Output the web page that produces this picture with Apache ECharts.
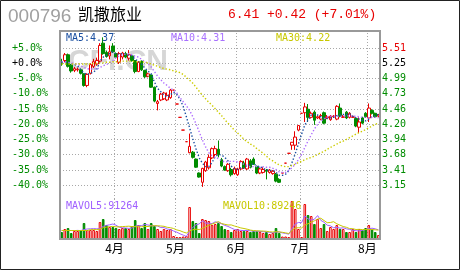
<!DOCTYPE html>
<html><head><meta charset="utf-8">
<script src="https://cdn.jsdelivr.net/npm/echarts@6/dist/echarts.min.js"></script>
<style>html,body{margin:0;padding:0;background:#fff;}#c{width:460px;height:270px;}</style>
</head><body><div id="c"></div>
<script>
// ---- data ----
const opens = [
5.27,5.30,5.40,5.22,5.13,5.14,5.14,5.07,4.87,5.08,
5.20,5.24,5.29,5.60,5.44,5.38,5.55,5.42,5.27,5.36,
5.42,5.34,5.38,5.30,5.11,5.29,5.13,5.03,5.05,4.84,
4.56,4.62,4.64,4.62,4.66,4.79,4.55,4.32,4.10,3.90,
3.71,3.72,3.60,3.36,3.20,3.40,3.45,3.62,3.68,3.77,
3.59,3.47,3.40,3.42,3.35,3.33,3.43,3.53,3.43,3.57,
3.60,3.47,3.36,3.37,3.41,3.37,3.35,3.34,3.25,3.36,
3.53,3.70,3.84,3.84,4.10,4.39,4.40,4.46,4.32,4.41,
4.31,4.29,4.40,4.31,4.28,4.33,4.29,4.48,4.32,4.41,
4.32,4.32,4.30,4.15,4.31,4.39,4.31,4.44,4.39,4.34];
const closes = [
5.25,5.40,5.20,5.12,5.16,5.15,5.08,4.87,5.06,5.23,
5.28,5.30,5.56,5.42,5.37,5.45,5.45,5.36,5.42,5.43,
5.36,5.40,5.30,5.11,5.27,5.14,5.02,5.07,4.84,4.60,
4.59,4.72,4.74,4.70,4.79,4.79,4.55,4.32,4.10,3.90,
3.82,3.63,3.46,3.29,3.44,3.55,3.63,3.78,3.78,3.68,
3.48,3.41,3.51,3.33,3.44,3.43,3.56,3.45,3.60,3.46,
3.51,3.36,3.43,3.42,3.39,3.41,3.39,3.22,3.20,3.36,
3.53,3.70,3.89,3.98,4.18,4.39,4.50,4.32,4.39,4.27,
4.33,4.35,4.22,4.33,4.34,4.34,4.51,4.34,4.33,4.31,
4.39,4.33,4.17,4.24,4.22,4.33,4.48,4.39,4.33,4.36];
const lows = [
5.21,5.27,5.18,5.09,5.10,5.11,5.06,4.85,4.84,5.06,
5.17,5.21,5.27,5.40,5.35,5.32,5.43,5.34,5.24,5.32,
5.34,5.30,5.28,5.08,5.10,5.12,5.00,5.01,4.83,4.58,
4.44,4.60,4.62,4.60,4.64,4.79,4.55,4.32,4.10,3.90,
3.70,3.61,3.45,3.28,3.12,3.38,3.42,3.60,3.64,3.63,
3.46,3.40,3.38,3.30,3.33,3.31,3.41,3.43,3.41,3.44,
3.50,3.34,3.34,3.35,3.25,3.35,3.33,3.20,3.19,3.36,
3.53,3.70,3.76,3.76,4.08,4.39,4.24,4.24,4.30,4.19,
4.29,4.27,4.20,4.29,4.26,4.31,4.27,4.32,4.31,4.29,
4.30,4.31,4.15,4.05,4.20,4.31,4.24,4.37,4.31,4.32];
const highs = [
5.33,5.43,5.42,5.24,5.19,5.18,5.16,5.08,5.08,5.25,
5.33,5.35,5.60,5.70,5.47,5.56,5.60,5.44,5.45,5.45,
5.45,5.48,5.40,5.31,5.29,5.30,5.14,5.09,5.06,4.85,
4.62,4.74,4.76,4.75,4.81,4.79,4.55,4.32,4.10,3.90,
4.04,3.74,3.61,3.37,3.45,3.57,3.68,3.80,3.83,3.92,
3.62,3.49,3.53,3.45,3.47,3.45,3.58,3.57,3.62,3.60,
3.63,3.49,3.46,3.46,3.43,3.43,3.41,3.36,3.27,3.36,
3.53,3.70,3.89,4.08,4.18,4.39,4.57,4.55,4.42,4.44,
4.35,4.38,4.42,4.36,4.36,4.36,4.53,4.56,4.36,4.43,
4.41,4.35,4.32,4.32,4.33,4.41,4.56,4.46,4.40,4.38];
const volumes = [
70000,100000,110000,60000,80000,80000,90000,160000,90000,90000,
90000,80000,170000,200000,140000,120000,120000,110000,100000,110000,
110000,100000,130000,190000,140000,110000,160000,100000,160000,130000,
100000,80000,100000,90000,100000,30000,20000,20000,25000,30000,
320000,180000,160000,60000,200000,190000,180000,140000,150000,160000,
130000,100000,90000,70000,90000,100000,80000,80000,80000,70000,
80000,80000,70000,60000,70000,50000,60000,110000,60000,25000,
25000,20000,380000,300000,100000,20000,350000,240000,230000,150000,
200000,110000,150000,80000,120000,100000,140000,100000,100000,70000,
70000,100000,70000,100000,90000,110000,140000,100000,70000,40000];
const ma5 = [
5.27,5.28,5.27,5.25,5.23,5.21,5.14,5.08,5.06,5.08,
5.10,5.15,5.29,5.36,5.39,5.42,5.45,5.41,5.41,5.42,
5.40,5.39,5.38,5.32,5.29,5.24,5.17,5.12,5.07,4.93,
4.82,4.76,4.70,4.67,4.71,4.75,4.71,4.63,4.51,4.33,
4.14,3.95,3.78,3.62,3.53,3.47,3.47,3.54,3.64,3.68,
3.67,3.63,3.57,3.48,3.43,3.42,3.45,3.44,3.50,3.50,
3.52,3.48,3.47,3.44,3.42,3.40,3.41,3.37,3.32,3.32,
3.34,3.40,3.54,3.69,3.86,4.03,4.19,4.27,4.36,4.37,
4.36,4.33,4.31,4.30,4.31,4.32,4.35,4.37,4.37,4.37,
4.38,4.34,4.31,4.29,4.27,4.26,4.29,4.33,4.35,4.37];
const ma10 = [
5.28,5.28,5.27,5.26,5.25,5.23,5.21,5.18,5.16,5.15,
5.16,5.15,5.18,5.21,5.23,5.26,5.30,5.35,5.38,5.40,
5.41,5.42,5.40,5.37,5.36,5.32,5.28,5.25,5.19,5.11,
5.03,4.97,4.91,4.87,4.82,4.79,4.74,4.66,4.59,4.52,
4.44,4.33,4.21,4.07,3.93,3.81,3.71,3.66,3.63,3.61,
3.57,3.55,3.56,3.56,3.56,3.55,3.54,3.51,3.49,3.47,
3.47,3.47,3.46,3.47,3.46,3.46,3.44,3.42,3.38,3.37,
3.37,3.41,3.45,3.51,3.59,3.68,3.80,3.91,4.02,4.12,
4.20,4.26,4.29,4.33,4.34,4.34,4.34,4.34,4.34,4.34,
4.35,4.34,4.34,4.33,4.32,4.32,4.31,4.32,4.32,4.31];
const ma30 = [
5.24,5.24,5.24,5.24,5.24,5.24,5.24,5.24,5.24,5.24,
5.25,5.25,5.26,5.26,5.27,5.27,5.28,5.28,5.28,5.29,
5.29,5.29,5.29,5.28,5.28,5.28,5.27,5.26,5.24,5.22,
5.20,5.18,5.16,5.15,5.14,5.12,5.11,5.09,5.06,5.01,
4.96,4.91,4.84,4.77,4.70,4.64,4.58,4.53,4.47,4.41,
4.35,4.28,4.22,4.16,4.10,4.05,4.00,3.94,3.90,3.86,
3.83,3.78,3.74,3.70,3.65,3.60,3.57,3.53,3.50,3.48,
3.47,3.47,3.49,3.51,3.54,3.56,3.59,3.61,3.63,3.65,
3.68,3.71,3.73,3.77,3.80,3.83,3.86,3.89,3.91,3.94,
3.97,4.00,4.03,4.06,4.08,4.11,4.14,4.17,4.20,4.22];
const mavol5 = [
85000,85000,85000,85000,84000,86000,84000,94000,100000,102000,
104000,102000,104000,126000,136000,142000,150000,138000,118000,112000,
110000,106000,110000,128000,134000,134000,146000,140000,134000,132000,
130000,114000,114000,100000,94000,80000,68000,52000,39000,25000,
83000,115000,143000,150000,184000,158000,158000,154000,172000,164000,
152000,136000,126000,110000,96000,90000,86000,84000,86000,82000,
78000,78000,76000,72000,72000,66000,62000,70000,70000,61000,
56000,48000,102000,150000,165000,164000,230000,202000,188000,198000,
234000,186000,168000,138000,132000,112000,118000,108000,112000,102000,
96000,88000,82000,82000,86000,94000,102000,108000,102000,91264];
const mavol10 = [
85000,85000,85000,85000,85000,85000,85000,85000,85000,93000,
95000,93000,99000,113000,119000,123000,126000,121000,122000,124000,
126000,128000,124000,123000,123000,122000,126000,125000,131000,133000,
132000,130000,127000,117000,113000,105000,91000,83000,70000,60000,
82000,92000,98000,95000,105000,121000,137000,149000,161000,174000,
155000,147000,140000,141000,130000,121000,111000,105000,98000,89000,
84000,82000,80000,79000,77000,72000,70000,73000,71000,67000,
61000,55000,86000,110000,113000,110000,139000,152000,169000,182000,
199000,208000,185000,163000,165000,173000,152000,138000,125000,117000,
104000,103000,95000,97000,94000,95000,95000,95000,92000,89246];
const monthStarts = [17, 36, 55, 75, 96];
const monthNames = ['4月', '5月', '6月', '7月', '8月'];
const pctLabels = ['+5.0%','+0.0%','-5.0%','-10.0%','-15.0%','-20.0%','-25.0%','-30.0%','-35.0%','-40.0%'];
const priceLabels = ['5.51','5.25','4.99','4.73','4.46','4.20','3.94','3.68','3.41','3.15'];

// ---- styling ----
const RED = '#e80000', GREEN = '#008c00', GRIDC = '#a8a8a8';
const MONO = '"DejaVu Sans Mono", monospace';
const cats = opens.map((_, i) => String(i));

const candleData = opens.map((o, i) => {
  const it = { value: [o, closes[i], lows[i], highs[i]] };
  if (o === closes[i]) it.itemStyle = { color: RED, color0: RED, borderColor: RED, borderColor0: RED };
  return it;
});
const volData = volumes.map((v, i) => {
  const up = closes[i] >= opens[i];
  return { value: v, itemStyle: up ? { color: '#fff', borderColor: RED, borderWidth: 1 }
                                   : { color: GREEN, borderColor: GREEN, borderWidth: 1 } };
});
const isMonth = (i) => monthStarts.indexOf(Number(i)) >= 0;
const labelColor = (k) => k === 10 ? RED : (k === 9 ? '#000' : GREEN);

const chart = echarts.init(document.getElementById('c'), null, { renderer: 'canvas' });
chart.setOption({
  animation: false,
  backgroundColor: '#fff',
  grid: [
    { left: 60, top: 33, width: 320, height: 167.4 },
    { left: 60, top: 199, width: 320, height: 40 }
  ],
  xAxis: [
    { gridIndex: 0, type: 'category', data: cats, boundaryGap: true,
      axisLine: { show: false }, axisTick: { show: false }, axisLabel: { show: false },
      splitLine: { show: true, interval: (i) => isMonth(i), lineStyle: { color: GRIDC, type: [1, 2], width: 1 } } },
    { gridIndex: 1, type: 'category', data: cats, boundaryGap: true,
      axisLine: { show: false }, axisTick: { show: false },
      axisLabel: { show: true, interval: (i) => isMonth(i), margin: 3, fontSize: 12, color: '#000',
        fontFamily: '"Noto Sans CJK SC"', padding: [0, 3, 0, 0],
        formatter: (v, i) => monthNames[monthStarts.indexOf(Number(v))] || '' },
      splitLine: { show: true, interval: (i) => isMonth(i), lineStyle: { color: GRIDC, type: [1, 2], width: 1 } } }
  ],
  yAxis: [
    { gridIndex: 0, type: 'value', min: -45, max: 10, interval: 5, position: 'left',
      axisLine: { show: false }, axisTick: { show: false },
      axisLabel: { align: 'left', margin: 48, fontSize: 10, fontFamily: MONO,
        formatter: (v) => { const k = Math.round((v + 45) / 5); return (k >= 1 && k <= 10) ? pctLabels[10 - k] : ''; },
        color: (v) => labelColor(Math.round((v + 45) / 5)) },
      splitLine: { show: true, showMinLine: false, showMaxLine: false, lineStyle: { color: GRIDC, type: [1, 2], width: 1 } } },
    { gridIndex: 0, type: 'value', min: 2.8875, max: 5.775, interval: 0.2625, position: 'right',
      axisLine: { show: false }, axisTick: { show: false }, splitLine: { show: false },
      axisLabel: { margin: 2, fontSize: 10, fontFamily: MONO,
        formatter: (v) => { const k = Math.round((v - 2.8875) / 0.2625); return (k >= 1 && k <= 10) ? priceLabels[10 - k] : ''; },
        color: (v) => labelColor(Math.round((v - 2.8875) / 0.2625)) } },
    { gridIndex: 1, type: 'value', min: 0, max: 400000, show: false, splitLine: { show: false } }
  ],
  series: [
    { type: 'candlestick', xAxisIndex: 0, yAxisIndex: 1, data: candleData, barWidth: 3,
      itemStyle: { color: '#fff', color0: GREEN, borderColor: RED, borderColor0: GREEN, borderWidth: 1 } },
    { type: 'line', xAxisIndex: 0, yAxisIndex: 1, data: ma5, showSymbol: false, silent: true,
      lineStyle: { color: '#1a4fa0', width: 1.4, type: [1.4, 2] } },
    { type: 'line', xAxisIndex: 0, yAxisIndex: 1, data: ma10, showSymbol: false, silent: true,
      lineStyle: { color: '#b070ff', width: 1.4, type: [1.4, 2] } },
    { type: 'line', xAxisIndex: 0, yAxisIndex: 1, data: ma30, showSymbol: false, silent: true,
      lineStyle: { color: '#cccc00', width: 1.4, type: [1.4, 2] } },
    { type: 'bar', xAxisIndex: 1, yAxisIndex: 2, data: volData, barWidth: 2.6 },
    { type: 'line', xAxisIndex: 1, yAxisIndex: 2, data: mavol5, showSymbol: false, silent: true,
      lineStyle: { color: '#a060ff', width: 1 } },
    { type: 'line', xAxisIndex: 1, yAxisIndex: 2, data: mavol10, showSymbol: false, silent: true,
      lineStyle: { color: '#c8c800', width: 1 } }
  ],
  graphic: [
    { type: 'text', x: 68, y: 62, z: -10, silent: true,
      style: { text: 'CFI.CN', font: 'bold 30px "Liberation Sans"', fill: '#d6d6d6', verticalAlign: 'middle' } },
    { type: 'rect', z: 100, silent: true, shape: { x: 0.5, y: 0.5, width: 459, height: 269 },
      style: { fill: 'transparent', stroke: '#222', lineWidth: 1 } },
    { type: 'rect', z: 100, silent: true, shape: { x: 60, y: 31, width: 320, height: 208 },
      style: { fill: 'transparent', stroke: '#999', lineWidth: 2 } },
    { type: 'text', x: 8, y: 17, z: 100, style: { text: '000796', font: '19px "Liberation Sans"', fill: '#a0a0a0', verticalAlign: 'middle' } },
    { type: 'text', x: 78, y: 14, z: 100, style: { text: '凯撒旅业', font: '16px "Noto Sans CJK SC"', fill: '#000', verticalAlign: 'middle' } },
    { type: 'text', x: 228, y: 15, z: 100, style: { text: '6.41 +0.42 (+7.01%)', font: '13px "Liberation Mono"', fill: RED, verticalAlign: 'middle' } },
    { type: 'text', x: 66, y: 38, z: 100, style: { text: 'MA5:4.37', font: '10px ' + MONO, fill: '#1a4fa0', verticalAlign: 'middle' } },
    { type: 'text', x: 171, y: 38, z: 100, style: { text: 'MA10:4.31', font: '10px ' + MONO, fill: '#a870ff', verticalAlign: 'middle' } },
    { type: 'text', x: 276, y: 38, z: 100, style: { text: 'MA30:4.22', font: '10px ' + MONO, fill: '#c8c800', verticalAlign: 'middle' } },
    { type: 'text', x: 66, y: 206, z: 100, style: { text: 'MAVOL5:91264', font: '10px ' + MONO, fill: '#a060ff', verticalAlign: 'middle' } },
    { type: 'text', x: 223, y: 206, z: 100, style: { text: 'MAVOL10:89246', font: '10px ' + MONO, fill: '#c8c800', verticalAlign: 'middle' } }
  ]
});
</script></body></html>
